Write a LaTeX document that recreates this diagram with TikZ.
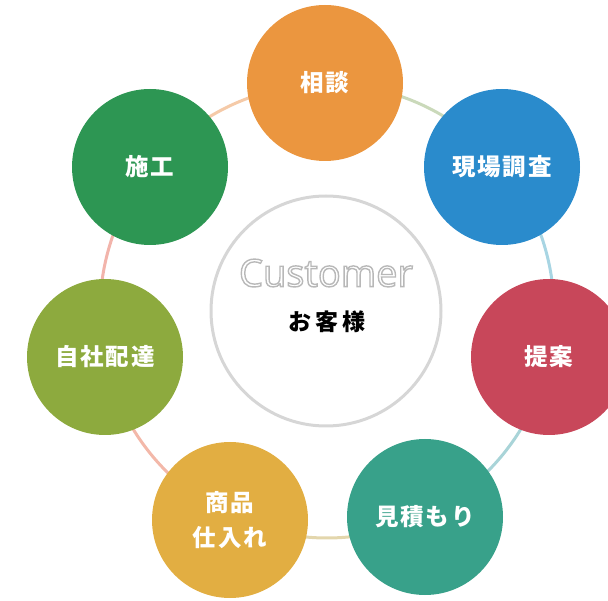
\documentclass[tikz,border=0pt]{standalone}
\usepackage{fontspec}
\setmainfont{Open Sans}
\newfontfamily\jpfont[LetterSpace=8]{Noto Sans CJK JP}
\newfontfamily\jpwide[LetterSpace=18]{Noto Sans CJK JP}
\newcommand\outlinetext[1]{\special{pdf:literal direct 1 Tr 1.4 w 0.72 G}#1\special{pdf:literal direct 0 Tr 1 w 0 G}}

\definecolor{soudan}{HTML}{EB963F}
\definecolor{chousa}{HTML}{2A8BCC}
\definecolor{teian}{HTML}{C8475A}
\definecolor{mitsumori}{HTML}{38A18A}
\definecolor{shiire}{HTML}{E2AE42}
\definecolor{haitatsu}{HTML}{8DAA3E}
\definecolor{sekou}{HTML}{2D9653}
\definecolor{custgray}{HTML}{D6D6D6}

\tikzset{
  stage/.style={circle, fill=#1, minimum size=156pt, inner sep=0pt, text=white,
    align=center, font=\jpfont\bfseries\fontsize{23.5}{35}\selectfont},
  ring/.style={line width=3pt},
}

\begin{document}
\begin{tikzpicture}[x=1pt,y=-1pt]
\useasboundingbox (0,0) rectangle (608,601);
\coordinate (ctr) at (327,311);
\foreach \a/\b/\c in {219/270/{245,202,168}, -90/-39/{202,217,186}, -40/12/{168,213,227},
    11/65/{169,212,216}, 64/115/{227,214,172}, 114/169/{243,184,169}, 168/220/{242,180,171}}
  {\definecolor{arccol}{RGB}{\c}
  \draw[ring, arccol] (ctr) ++(\a:227) arc[start angle=\a, end angle=\b, radius=227];}

\node[circle, draw=custgray, line width=3pt, minimum size=230pt] (cust) at (326,311) {};
\node[font=\fontsize{38}{40}\selectfont] (custen) at (326,273) {\outlinetext{Customer}};
\node[font=\jpwide\bfseries\fontsize{23}{26}\selectfont] (custjp) at (327,322) {お客様};

\node[stage=soudan] (soudan) at (325,83) {相談};
\node[stage=chousa] (chousa) at (502,167) {現場調査};
\node[stage=teian] (teian) at (549,357) {提案};
\node[stage=mitsumori] (mitsumori) at (425,517) {見積もり};
\node[stage=shiire] (shiire) at (230,520) {商品\\仕入れ};
\node[stage=haitatsu] (haitatsu) at (105,357) {自社配達};
\node[stage=sekou] (sekou) at (150,167) {施工};
\end{tikzpicture}
\end{document}
